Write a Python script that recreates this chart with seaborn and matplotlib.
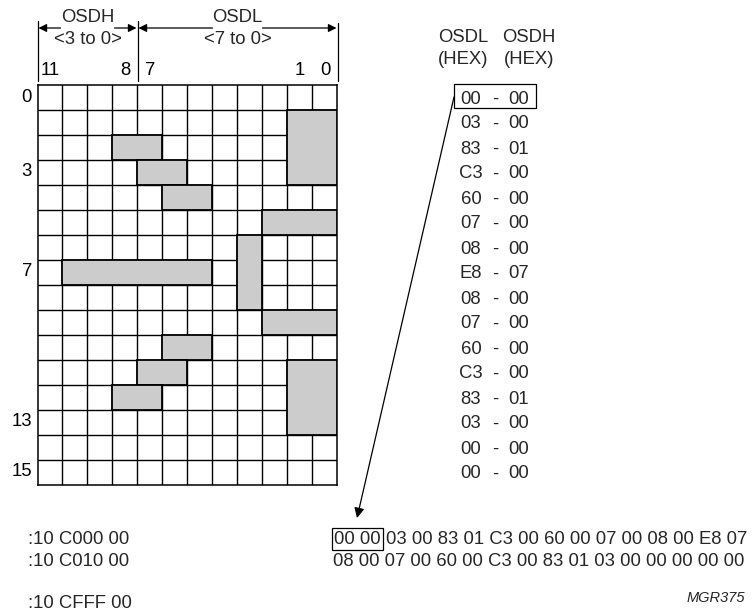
import numpy as np
import pandas as pd
import matplotlib
matplotlib.use("Agg")
import matplotlib.pyplot as plt
import seaborn as sns
from matplotlib.colors import ListedColormap
from matplotlib.patches import Rectangle

# ---- data: one character, 16 rows x 12 bits ----
rows = list(range(16))
osdl_hex = ["00", "03", "83", "C3", "60", "07", "08", "E8",
            "08", "07", "60", "C3", "83", "03", "00", "00"]
osdh_hex = ["00", "00", "01", "00", "00", "00", "00", "07",
            "00", "00", "00", "00", "01", "00", "00", "00"]
bit_order = list(range(11, -1, -1))
bit_ticks = [11, 8, 7, 1, 0]
row_ticks = [0, 3, 7, 13, 15]
addr_labels = [":10 C000 00", ":10 C010 00", ":10 CFFF 00"]

sns.set_theme(style="white")
plt.rcParams["font.family"] = ["Liberation Sans", "DejaVu Sans"]
FS = 13.3
GRAY = "#cccccc"

words = [(int(h, 16) << 8) | int(l, 16) for l, h in zip(osdl_hex, osdh_hex)]
bitmap = np.array([[(w >> b) & 1 for b in bit_order] for w in words])
df = pd.DataFrame(bitmap, index=rows, columns=bit_order)

W, H = 755, 615
GX0, GY0, CELL = 37.5, 84.5, 25
fig = plt.figure(figsize=(W / 100, H / 100), dpi=100)
ax = fig.add_axes([GX0 / W, 1 - (GY0 + 16 * CELL) / H, 12 * CELL / W, 16 * CELL / H])

sns.heatmap(df, ax=ax, cmap=ListedColormap(["white", GRAY]), vmin=0, vmax=1,
            cbar=False, linewidths=0)

# cell grid
for i in range(1, 16):
    ax.axhline(i, color="black", lw=1.0, zorder=2)
for j in range(1, 12):
    ax.axvline(j, color="black", lw=1.0, zorder=2)

# merge set bits into blocks: runs in a row, stacked when identical
blocks, open_runs = [], {}
for r in rows:
    runs, c = [], 0
    while c < 12:
        if bitmap[r, c]:
            c0 = c
            while c < 12 and bitmap[r, c]:
                c += 1
            runs.append((c0, c - 1))
        else:
            c += 1
    new_open = {}
    for run in runs:
        if run in open_runs:
            blk = open_runs[run]
            blk[3] = r
        else:
            blk = [run[0], run[1], r, r]
            blocks.append(blk)
        new_open[run] = blk
    open_runs = new_open

for c0, c1, r0, r1 in blocks:
    ax.add_patch(Rectangle((c0, r0), c1 - c0 + 1, r1 - r0 + 1,
                           facecolor=GRAY, edgecolor="black", lw=1.3, zorder=3))

for s in ax.spines.values():
    s.set_visible(True)
    s.set_color("black")
    s.set_linewidth(1.1)

ax.set_xticks([bit_order.index(b) + 0.5 for b in bit_ticks])
ax.set_xticklabels([str(b) for b in bit_ticks], fontsize=FS)
ax.xaxis.tick_top()
ax.set_yticks([r + 0.5 for r in row_ticks])
ax.set_yticklabels([str(r) for r in row_ticks], fontsize=FS, rotation=0)
ax.tick_params(length=0, pad=4, colors="black")
ax.set_xlabel("")
ax.set_ylabel("")

# ---- overlay in pixel coordinates for the annotations ----
ov = fig.add_axes([0, 0, 1, 1])
ov.set_xlim(0, W)
ov.set_ylim(H, 0)
ov.axis("off")
ov.patch.set_alpha(0)

for k, ytop in [(0, 21), (4, 21), (12, 23)]:
    x = GX0 + CELL * k
    ov.plot([x, x], [ytop, GY0 - 4], color="black", lw=0.9)

arrow_kw = dict(arrowstyle="-|>", color="black", lw=0.9, mutation_scale=12,
                shrinkA=0, shrinkB=0)
for k0, k1, name, sub, hw in [(0, 4, "OSDH", "<3 to 0>", 27),
                              (4, 12, "OSDL", "<7 to 0>", 25)]:
    x0, x1 = GX0 + CELL * k0, GX0 + CELL * k1
    mid = (x0 + x1) / 2
    ov.text(mid, 17, name, ha="center", va="center", fontsize=FS)
    ov.text(mid, 40, sub, ha="center", va="center", fontsize=FS)
    ov.annotate("", xy=(x0 + 1, 28), xytext=(mid - hw, 28), arrowprops=arrow_kw)
    ov.annotate("", xy=(x1 - 1, 28), xytext=(mid + hw, 28), arrowprops=arrow_kw)

# hex table on the right
for x, lab in [(463, "OSDL"), (529, "OSDH")]:
    ov.text(x, 37, lab, ha="center", va="center", fontsize=FS)
    ov.text(x, 60, "(HEX)", ha="center", va="center", fontsize=FS)
for r, (lo, hi) in enumerate(zip(osdl_hex, osdh_hex)):
    y = GY0 + CELL * (r + 0.5)
    ov.text(471, y, lo, ha="center", va="center_baseline", fontsize=FS)
    ov.text(495, y, "-", ha="center", va="center_baseline", fontsize=FS)
    ov.text(519, y, hi, ha="center", va="center_baseline", fontsize=FS)
ov.add_patch(Rectangle((454, 84), 82, 24, fill=False, edgecolor="black", lw=0.9))

ov.annotate("", xy=(357, 518), xytext=(454, 97),
            arrowprops=dict(arrowstyle="-|>", color="black", lw=0.9,
                            mutation_scale=15, shrinkA=0, shrinkB=0))

# hex file lines at the bottom
pairs = [f"{lo} {hi}" for lo, hi in zip(osdl_hex, osdh_hex)]
for y, lab in zip([537, 560, 602], addr_labels):
    ov.text(28, y, lab, ha="left", va="center_baseline", fontsize=FS)
ov.text(334, 537, pairs[0], ha="left", va="center_baseline", fontsize=FS,
        bbox=dict(boxstyle="square,pad=0.12", fc="none", ec="black", lw=0.9))
ov.text(386, 537, " ".join(pairs[1:8]), ha="left", va="center_baseline", fontsize=FS)
ov.text(333, 560, " ".join(pairs[8:]), ha="left", va="center_baseline", fontsize=FS)

ov.text(745, 598, "MGR375", ha="right", va="center", fontsize=10.5, style="italic")

fig.savefig("out.png", dpi=100, facecolor="white")
